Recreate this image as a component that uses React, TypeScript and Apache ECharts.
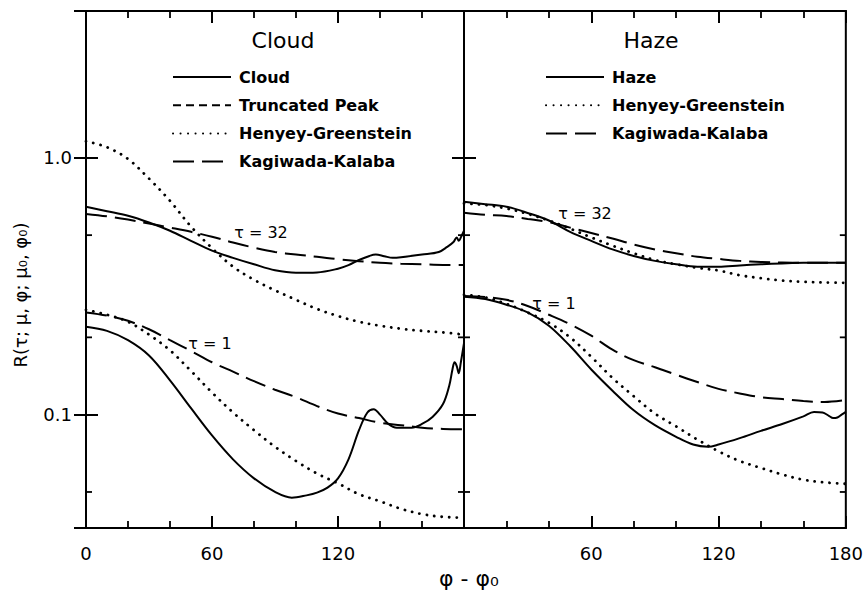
import React, { useEffect, useRef } from "react";
import * as echarts from "echarts";

// ---------- data ----------
const PHI = [0, 10, 20, 30, 40, 50, 60, 70, 80, 90, 100, 110, 120, 130, 140, 150, 160, 170, 180];

// Cloud panel
const cloudT32Phi = [0, 10, 20, 30, 40, 50, 60, 70, 80, 90, 100, 110, 120, 125, 130, 135, 138, 142, 146, 150, 160, 168, 172, 175, 176.5, 177.5, 178.5, 180];
const cloudT32 = [0.645, 0.62, 0.595, 0.56, 0.52, 0.475, 0.435, 0.408, 0.385, 0.365, 0.357, 0.358, 0.37, 0.382, 0.4, 0.415, 0.42, 0.414, 0.408, 0.41, 0.42, 0.43, 0.45, 0.47, 0.49, 0.475, 0.49, 0.52];
const cloudT1Phi = [0, 10, 20, 30, 40, 50, 60, 70, 80, 90, 98, 105, 110, 115, 120, 125, 130, 134, 137, 140, 144, 148, 155, 160, 165, 170, 173, 174.5, 175.5, 176.5, 177.5, 178.5, 180];
const cloudT1 = [0.22, 0.212, 0.195, 0.17, 0.136, 0.106, 0.083, 0.067, 0.0565, 0.05, 0.0475, 0.0485, 0.0497, 0.052, 0.0565, 0.067, 0.087, 0.102, 0.105, 0.1, 0.092, 0.089, 0.089, 0.092, 0.098, 0.11, 0.13, 0.15, 0.16, 0.155, 0.145, 0.16, 0.19];
const cloudHgT32 = [1.16, 1.1, 0.99, 0.83, 0.68, 0.54, 0.445, 0.377, 0.335, 0.305, 0.28, 0.258, 0.242, 0.23, 0.222, 0.216, 0.212, 0.209, 0.205];
const cloudHgT1 = [0.256, 0.245, 0.23, 0.205, 0.178, 0.148, 0.122, 0.102, 0.087, 0.075, 0.066, 0.059, 0.054, 0.049, 0.046, 0.043, 0.041, 0.04, 0.0397];
const cloudKkT32 = [0.605, 0.592, 0.575, 0.555, 0.535, 0.515, 0.493, 0.468, 0.447, 0.43, 0.42, 0.412, 0.403, 0.396, 0.39, 0.387, 0.385, 0.383, 0.383];
const cloudKkT1 = [0.25, 0.243, 0.232, 0.215, 0.195, 0.177, 0.16, 0.147, 0.135, 0.125, 0.117, 0.108, 0.101, 0.097, 0.093, 0.091, 0.089, 0.088, 0.0877];

// Haze panel
const hazeT32 = [0.674, 0.66, 0.645, 0.61, 0.57, 0.515, 0.475, 0.44, 0.415, 0.397, 0.385, 0.377, 0.377, 0.381, 0.385, 0.388, 0.39, 0.39, 0.39];
const hazeT1Phi = [0, 10, 20, 30, 40, 50, 60, 70, 80, 90, 100, 108, 115, 120, 130, 140, 150, 160, 165, 169, 172, 174, 176, 178, 180];
const hazeT1 = [0.288, 0.282, 0.268, 0.25, 0.222, 0.185, 0.15, 0.124, 0.104, 0.091, 0.082, 0.0765, 0.075, 0.0765, 0.081, 0.0865, 0.092, 0.0985, 0.1025, 0.102, 0.099, 0.097, 0.0975, 0.1, 0.1025];
const hazeHgT32 = [0.665, 0.655, 0.635, 0.605, 0.57, 0.53, 0.49, 0.455, 0.425, 0.4, 0.385, 0.373, 0.364, 0.349, 0.34, 0.333, 0.329, 0.327, 0.326];
const hazeHgT1 = [0.293, 0.286, 0.27, 0.25, 0.228, 0.2, 0.168, 0.139, 0.118, 0.101, 0.09, 0.08, 0.072, 0.066, 0.062, 0.0585, 0.0558, 0.0545, 0.0538];
const hazeKkT32 = [0.611, 0.6, 0.593, 0.578, 0.562, 0.535, 0.51, 0.485, 0.46, 0.44, 0.425, 0.412, 0.404, 0.397, 0.393, 0.391, 0.39, 0.39, 0.39];
const hazeKkT1 = [0.29, 0.287, 0.28, 0.265, 0.245, 0.225, 0.203, 0.179, 0.163, 0.153, 0.143, 0.134, 0.126, 0.121, 0.117, 0.115, 0.113, 0.112, 0.114];

const X_MIN = 0;
const X_MAX = 180;
const Y_MIN = 0.0362;
const Y_MAX = 3.73;
const MINOR_Y = [0.05, 0.2, 0.5];
const CLOUD_LEGEND = ["Cloud", "Truncated Peak", "Henyey-Greenstein", "Kagiwada-Kalaba"];
const HAZE_LEGEND = ["Haze", "Henyey-Greenstein", "Kagiwada-Kalaba"];

// ---------- styles ----------
const FONT = "DejaVu Sans";
const BLACK = "#000";
const SOLID = { color: BLACK, width: 2, type: "solid" as any };
const DOTTED = { color: BLACK, width: 2.8, type: [0.1, 7.4] as any, cap: "round" as any };
const LONGDASH = { color: BLACK, width: 2, type: [21, 8] as any };
const SHORTDASH = { color: BLACK, width: 2, type: [8, 5] as any };

const pairs = (xs: number[], ys: number[]) => xs.map((x, i) => [x, ys[i]]);

function lineSeries(name: string, xs: number[], ys: number[], style: any, axis: number) {
  return {
    type: "line",
    name,
    xAxisIndex: axis,
    yAxisIndex: axis,
    data: pairs(xs, ys),
    showSymbol: false,
    symbol: "none",
    smooth: 0.35,
    lineStyle: style,
    itemStyle: { color: "rgba(0,0,0,0)", opacity: 0 },
    silent: true,
    z: 3,
  };
}

function xAxes(grid: number, labels: number[]) {
  const base = {
    type: "value",
    gridIndex: grid,
    min: X_MIN,
    max: X_MAX,
    interval: 60,
    axisLine: { show: true, lineStyle: { color: BLACK, width: 2 } },
    axisTick: { show: true, inside: true, length: 12, lineStyle: { color: BLACK, width: 2 } },
    minorTick: { show: true, splitNumber: 3, length: 7, lineStyle: { color: BLACK, width: 1.8 } },
    splitLine: { show: false },
  };
  return [
    {
      ...base,
      position: "bottom",
      axisLabel: {
        show: true,
        margin: 16,
        color: BLACK,
        fontFamily: FONT,
        fontSize: 18,
        formatter: (v: number) => (labels.indexOf(v) >= 0 ? String(v) : ""),
      },
    },
    { ...base, position: "top", axisLabel: { show: false } },
  ];
}

function yAxes(grid: number, withLabels: boolean) {
  const base = {
    type: "log",
    logBase: 10,
    gridIndex: grid,
    min: Y_MIN,
    max: Y_MAX,
    axisLine: { show: true, lineStyle: { color: BLACK, width: 2 } },
    axisTick: { show: true, inside: true, length: 12, lineStyle: { color: BLACK, width: 2 } },
    splitLine: { show: false },
  };
  return [
    {
      ...base,
      position: "left",
      axisLabel: {
        show: withLabels,
        margin: 14,
        color: BLACK,
        fontFamily: FONT,
        fontSize: 18,
        formatter: (v: number) =>
          Math.abs(v - 1) < 1e-6 ? "1.0" : Math.abs(v - 0.1) < 1e-7 ? "0.1" : "",
      },
    },
    { ...base, position: "right", axisLabel: { show: false } },
  ];
}

function legend(data: string[], left: number) {
  return {
    data,
    orient: "vertical",
    left,
    top: 69,
    padding: 0,
    itemWidth: 58,
    itemHeight: 14,
    itemGap: 12.2,
    selectedMode: false,
    itemStyle: { color: "rgba(0,0,0,0)", opacity: 0, borderWidth: 0 },
    textStyle: { color: BLACK, fontFamily: FONT, fontSize: 16, fontWeight: "bold", padding: [0, 0, 0, 3] },
  };
}

const textEl = (text: string, x: number, y: number, size: number, extra: any = {}, weight = "normal") => ({
  type: "text",
  x,
  y,
  silent: true,
  style: {
    text,
    fill: BLACK,
    fontFamily: FONT,
    fontSize: size,
    fontWeight: weight,
    textAlign: "center",
    textVerticalAlign: "middle",
  },
  ...extra,
});

const TEXTS = [
  textEl("Cloud", 283, 40, 22),
  textEl("Haze", 651, 40, 22),
  textEl("τ = 32", 261, 232, 16),
  textEl("τ = 32", 585, 213, 16),
  textEl("τ = 1", 210, 343, 16),
  textEl("τ = 1", 554, 303, 16),
  textEl("φ - φ₀", 469, 578, 22),
  textEl("R(τ; μ, φ; μ₀, φ₀)", 20, 295, 18, { rotation: Math.PI / 2 }),
];

const option: any = {
  animation: false,
  backgroundColor: "#fff",
  grid: [
    { left: 86, top: 11, width: 378, height: 517, show: true, borderColor: BLACK, borderWidth: 2, backgroundColor: "transparent" },
    { left: 464, top: 11, width: 382, height: 517, show: true, borderColor: BLACK, borderWidth: 2, backgroundColor: "transparent" },
  ],
  xAxis: [...xAxes(0, [0, 60, 120]), ...xAxes(1, [60, 120, 180])],
  yAxis: [...yAxes(0, true), ...yAxes(1, false)],
  legend: [legend(CLOUD_LEGEND, 172), legend(HAZE_LEGEND, 545)],
  series: [
    lineSeries("Cloud", cloudT32Phi, cloudT32, SOLID, 0),
    lineSeries("Cloud", cloudT1Phi, cloudT1, SOLID, 0),
    lineSeries("Truncated Peak", [], [], SHORTDASH, 0),
    lineSeries("Henyey-Greenstein", PHI, cloudHgT32, DOTTED, 0),
    lineSeries("Henyey-Greenstein", PHI, cloudHgT1, DOTTED, 0),
    lineSeries("Kagiwada-Kalaba", PHI, cloudKkT32, LONGDASH, 0),
    lineSeries("Kagiwada-Kalaba", PHI, cloudKkT1, LONGDASH, 0),
    lineSeries("Haze", PHI, hazeT32, SOLID, 2),
    lineSeries("Haze", hazeT1Phi, hazeT1, SOLID, 2),
    lineSeries("Henyey-Greenstein", PHI, hazeHgT32, DOTTED, 2),
    lineSeries("Henyey-Greenstein", PHI, hazeHgT1, DOTTED, 2),
    lineSeries("Kagiwada-Kalaba", PHI, hazeKkT32, LONGDASH, 2),
    lineSeries("Kagiwada-Kalaba", PHI, hazeKkT1, LONGDASH, 2),
  ],
};

export default function App() {
  const ref = useRef<HTMLDivElement>(null);
  useEffect(() => {
    const chart = echarts.init(ref.current!, null, { renderer: "svg" });
    chart.setOption(option);
    const els: any[] = [...TEXTS];
    [0, 1].forEach((g) => {
      const xl = chart.convertToPixel({ xAxisIndex: g * 2 }, X_MIN) as number;
      const xr = chart.convertToPixel({ xAxisIndex: g * 2 }, X_MAX) as number;
      MINOR_Y.forEach((v) => {
        const y = chart.convertToPixel({ yAxisIndex: g * 2 }, v) as number;
        els.push({ type: "line", silent: true, shape: { x1: xl, y1: y, x2: xl + 6, y2: y }, style: { stroke: BLACK, lineWidth: 1.8 } });
        els.push({ type: "line", silent: true, shape: { x1: xr - 6, y1: y, x2: xr, y2: y }, style: { stroke: BLACK, lineWidth: 1.8 } });
      });
    });
    chart.setOption({ graphic: els });
    return () => chart.dispose();
  }, []);
  return (
    <div
      ref={ref}
      style={{ position: "fixed", left: 0, top: 0, width: 866, height: 593, background: "#fff" }}
    />
  );
}
